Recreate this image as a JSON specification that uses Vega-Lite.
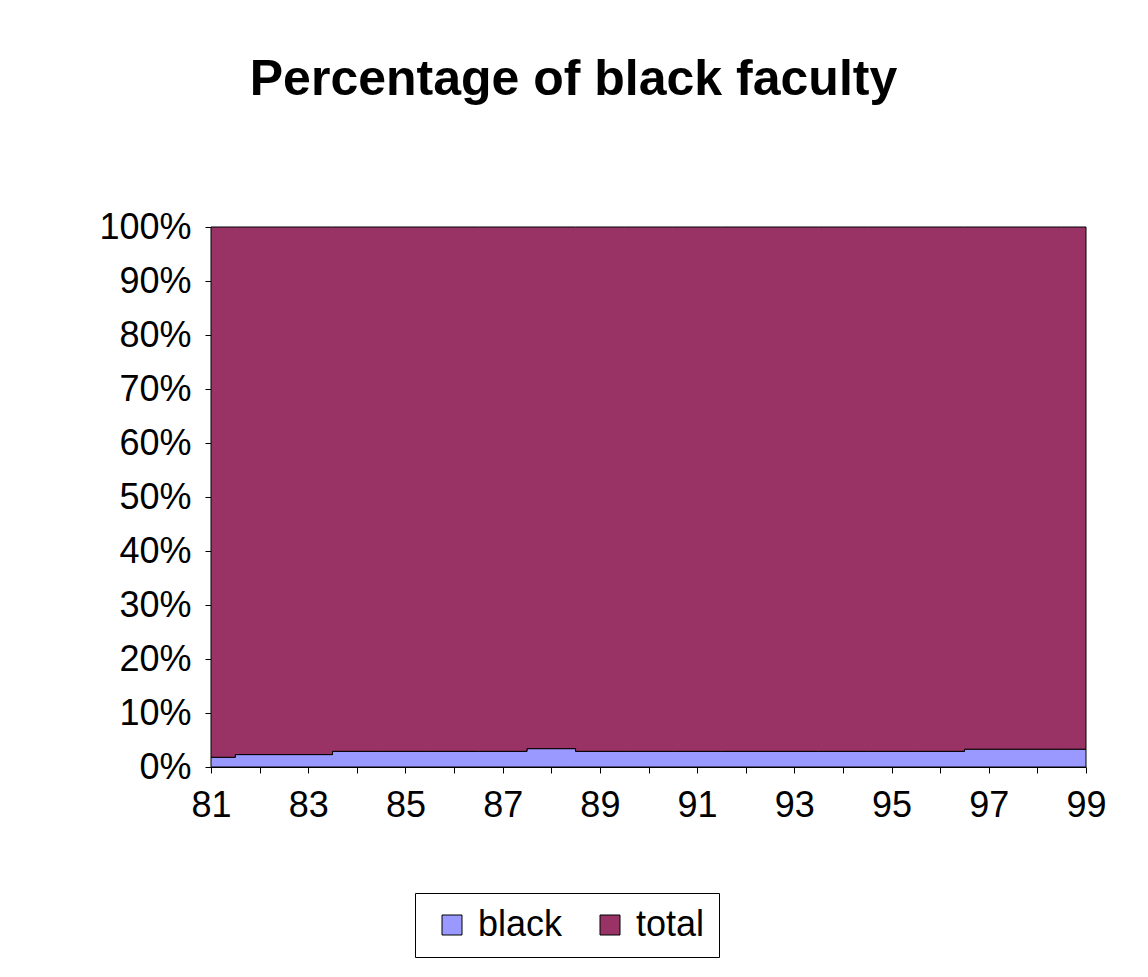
{
  "$schema": "https://vega.github.io/schema/vega-lite/v6.json",
  "width": 875,
  "height": 540,
  "autosize": {"type": "none"},
  "padding": {"left": 211, "top": 227, "right": 62, "bottom": 210},
  "background": "white",
  "title": {
    "text": "Percentage of black faculty",
    "font": "Liberation Sans",
    "fontSize": 50,
    "fontWeight": "bold",
    "color": "black",
    "anchor": "middle",
    "frame": "group",
    "dx": -75,
    "baseline": "alphabetic",
    "offset": 64
  },
  "data": {
    "values": [
      {"year": 81, "series": "black", "pct": 1.8}, {"year": 81, "series": "total", "pct": 98.2},
      {"year": 82, "series": "black", "pct": 2.3}, {"year": 82, "series": "total", "pct": 97.7},
      {"year": 83, "series": "black", "pct": 2.3}, {"year": 83, "series": "total", "pct": 97.7},
      {"year": 84, "series": "black", "pct": 2.9}, {"year": 84, "series": "total", "pct": 97.1},
      {"year": 85, "series": "black", "pct": 2.9}, {"year": 85, "series": "total", "pct": 97.1},
      {"year": 86, "series": "black", "pct": 2.9}, {"year": 86, "series": "total", "pct": 97.1},
      {"year": 87, "series": "black", "pct": 2.9}, {"year": 87, "series": "total", "pct": 97.1},
      {"year": 88, "series": "black", "pct": 3.4}, {"year": 88, "series": "total", "pct": 96.6},
      {"year": 89, "series": "black", "pct": 2.9}, {"year": 89, "series": "total", "pct": 97.1},
      {"year": 90, "series": "black", "pct": 2.9}, {"year": 90, "series": "total", "pct": 97.1},
      {"year": 91, "series": "black", "pct": 2.9}, {"year": 91, "series": "total", "pct": 97.1},
      {"year": 92, "series": "black", "pct": 2.9}, {"year": 92, "series": "total", "pct": 97.1},
      {"year": 93, "series": "black", "pct": 2.9}, {"year": 93, "series": "total", "pct": 97.1},
      {"year": 94, "series": "black", "pct": 2.9}, {"year": 94, "series": "total", "pct": 97.1},
      {"year": 95, "series": "black", "pct": 2.9}, {"year": 95, "series": "total", "pct": 97.1},
      {"year": 96, "series": "black", "pct": 2.9}, {"year": 96, "series": "total", "pct": 97.1},
      {"year": 97, "series": "black", "pct": 3.3}, {"year": 97, "series": "total", "pct": 96.7},
      {"year": 98, "series": "black", "pct": 3.3}, {"year": 98, "series": "total", "pct": 96.7},
      {"year": 99, "series": "black", "pct": 3.3}, {"year": 99, "series": "total", "pct": 96.7}
    ]
  },
  "mark": {
    "type": "area",
    "interpolate": "step",
    "stroke": "black",
    "strokeWidth": 1,
    "opacity": 1
  },
  "encoding": {
    "x": {
      "field": "year",
      "type": "quantitative",
      "scale": {"domain": [81, 99], "nice": false, "zero": false},
      "axis": {
        "title": null,
        "values": [81, 82, 83, 84, 85, 86, 87, 88, 89, 90, 91, 92, 93, 94, 95, 96, 97, 98, 99],
        "labelExpr": "datum.value % 2 == 1 ? datum.label : ''",
        "grid": false,
        "domainColor": "black",
        "tickColor": "black",
        "tickSize": 6,
        "labelFont": "Liberation Sans",
        "labelFontSize": 36,
        "labelColor": "black",
        "labelPadding": 15,
        "labelFlush": false,
        "labelOverlap": false
      }
    },
    "y": {
      "field": "pct",
      "type": "quantitative",
      "stack": "normalize",
      "scale": {"domain": [0, 1], "nice": false},
      "axis": {
        "title": null,
        "values": [0, 0.1, 0.2, 0.3, 0.4, 0.5, 0.6, 0.7, 0.8, 0.9, 1],
        "format": ".0%",
        "grid": false,
        "domainColor": "black",
        "tickColor": "black",
        "tickSize": 6,
        "labelFont": "Liberation Sans",
        "labelFontSize": 36,
        "labelColor": "black",
        "labelPadding": 14,
        "labelFlush": false,
        "labelOverlap": false
      }
    },
    "order": {"field": "series", "sort": "ascending"},
    "color": {
      "field": "series",
      "type": "nominal",
      "scale": {"domain": ["black", "total"], "range": ["#9999FF", "#993366"]},
      "legend": {
        "title": null,
        "orient": "none",
        "legendX": 204,
        "legendY": 666,
        "direction": "horizontal",
        "symbolType": "square",
        "symbolSize": 400,
        "symbolStrokeColor": "black",
        "symbolStrokeWidth": 1,
        "symbolOpacity": 1,
        "symbolOffset": 5,
        "labelFont": "Liberation Sans",
        "labelFontSize": 36,
        "labelColor": "black",
        "labelOffset": 8,
        "columnPadding": 24,
        "padding": 14,
        "strokeColor": "black",
        "fillColor": "white"
      }
    }
  },
  "config": {
    "view": {"stroke": null},
    "legend": {"strokeWidth": 1}
  }
}
